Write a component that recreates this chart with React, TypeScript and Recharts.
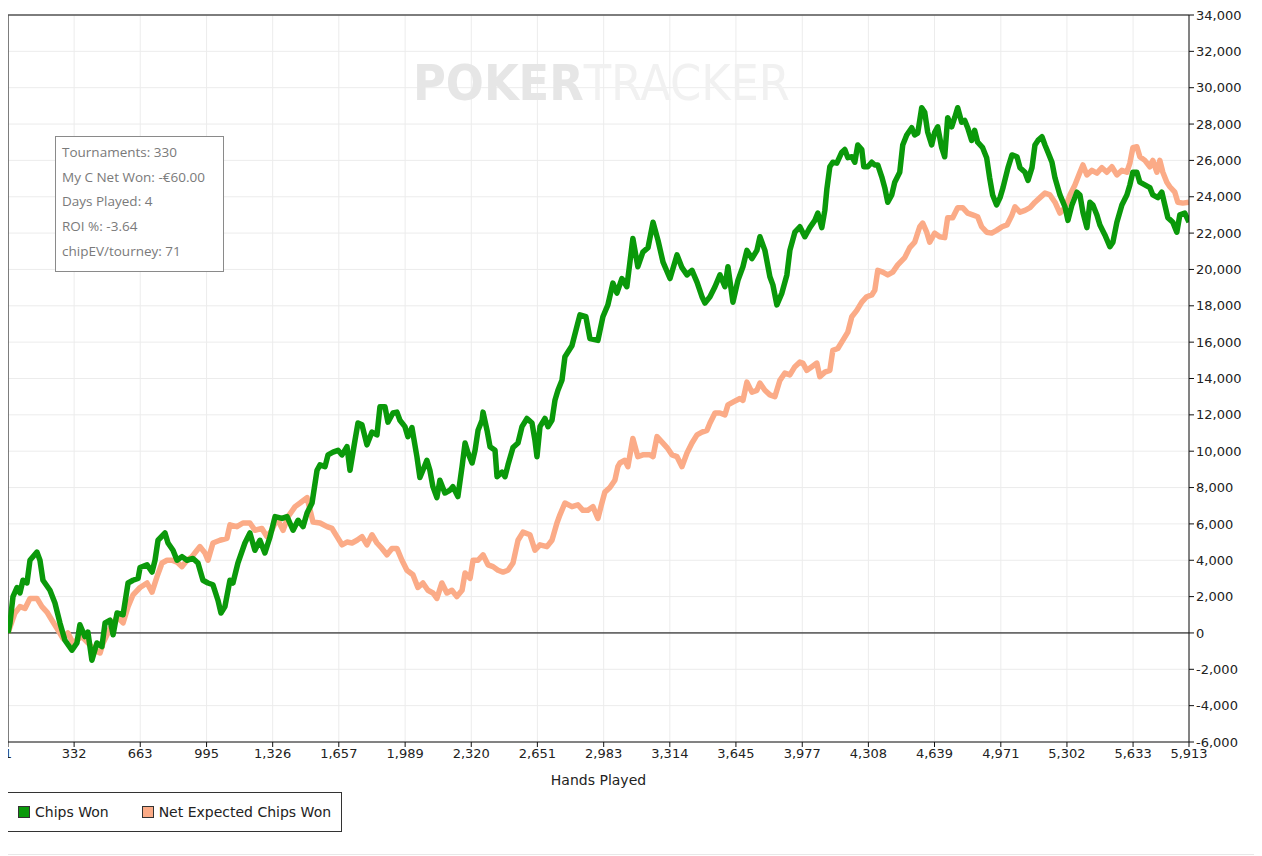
import React from "react";
import {
  LineChart,
  Line,
  XAxis,
  YAxis,
  CartesianGrid,
  ReferenceLine,
  Legend,
  Label,
  Customized,
} from "recharts";

// ---- data (hands played -> chips) ----
const chipsWonHands = [
  1, 11, 26, 46, 61, 76, 96, 111, 146, 161, 176, 211, 236, 261, 286, 321, 346, 361, 386, 401,
  421, 446, 471, 487, 512, 527, 547, 577, 602, 627, 652, 662, 697, 722, 737, 752, 787, 802, 827, 847,
  872, 897, 927, 952, 977, 1002, 1027, 1052, 1067, 1087, 1112, 1127, 1152, 1187, 1212, 1237, 1262, 1287, 1313, 1338,
  1373, 1398, 1428, 1453, 1478, 1498, 1523, 1548, 1563, 1588, 1603, 1628, 1653, 1673, 1698, 1713, 1738, 1753, 1773, 1798,
  1823, 1848, 1863, 1888, 1903, 1928, 1948, 1963, 1988, 2003, 2023, 2048, 2063, 2078, 2098, 2113, 2128, 2148, 2163, 2188,
  2213, 2228, 2253, 2274, 2289, 2304, 2324, 2339, 2354, 2374, 2379, 2399, 2414, 2439, 2449, 2474, 2489, 2504, 2529, 2554,
  2574, 2599, 2624, 2639, 2649, 2664, 2689, 2704, 2724, 2739, 2754, 2774, 2789, 2824, 2864, 2894, 2914, 2954, 2979, 3004,
  3029, 3049, 3074, 3099, 3129, 3154, 3179, 3205, 3230, 3255, 3280, 3315, 3350, 3375, 3400, 3425, 3450, 3475, 3490, 3515,
  3540, 3565, 3590, 3605, 3630, 3655, 3680, 3700, 3725, 3750, 3765, 3790, 3815, 3830, 3850, 3875, 3900, 3915, 3940, 3965,
  3990, 4015, 4040, 4055, 4075, 4090, 4100, 4115, 4130, 4150, 4175, 4190, 4205, 4225, 4240, 4255, 4275, 4285, 4305, 4325,
  4340, 4355, 4375, 4390, 4405, 4425, 4440, 4465, 4480, 4500, 4525, 4540, 4555, 4575, 4590, 4605, 4625, 4640, 4655, 4675,
  4690, 4705, 4725, 4740, 4755, 4775, 4790, 4805, 4825, 4840, 4855, 4880, 4900, 4915, 4930, 4950, 4967, 4982, 5007, 5027,
  5052, 5067, 5092, 5107, 5127, 5142, 5157, 5177, 5192, 5207, 5227, 5242, 5267, 5292, 5307, 5327, 5352, 5367, 5382, 5402,
  5417, 5432, 5452, 5467, 5492, 5517, 5532, 5552, 5577, 5602, 5617, 5632, 5652, 5667, 5692, 5717, 5732, 5757, 5777, 5792,
  5807, 5832, 5852, 5867, 5892, 5913,
];
const chipsWonValues = [
  0, 550, 2000, 2500, 2200, 2900, 2750, 4000, 4450, 4000, 2900, 2350, 1650, 550, -400, -950, -550, 450, -200, 50,
  -1500, -550, -750, 550, 700, -100, 1100, 1000, 2750, 2900, 3000, 3600, 3750, 3350, 4000, 5100, 5500, 4950, 4550, 4000,
  4200, 4000, 4100, 3850, 2900, 2750, 2650, 1800, 1100, 1450, 2900, 2750, 3850, 4950, 5500, 4550, 5100, 4400, 5300, 6400,
  6300, 6400, 5650, 6200, 5850, 6600, 7150, 8950, 9250, 9150, 9800, 9950, 10050, 9800, 10250, 8950, 10600, 11550, 11450, 10350,
  11050, 10900, 12450, 12450, 11600, 12100, 12150, 11700, 11350, 10800, 11300, 9700, 8550, 8950, 9500, 8950, 8050, 7450, 8400, 7700,
  7850, 8050, 7500, 9150, 10450, 9900, 9350, 10050, 11150, 11700, 12150, 11150, 10250, 10050, 8600, 8850, 8600, 9250, 10200, 10450,
  11350, 11800, 11550, 10600, 9700, 11350, 11800, 11350, 11700, 12800, 13350, 13900, 15200, 15800, 17500, 17400, 16200, 16100, 17400, 18050,
  19250, 18700, 19500, 19050, 21700, 20150, 20950, 21200, 22600, 21600, 20400, 19500, 20800, 20100, 19700, 19950, 19300, 18500, 18150, 18500,
  19050, 19700, 19050, 20150, 18200, 19400, 20150, 21050, 20600, 21050, 21800, 21050, 19600, 19150, 18050, 18700, 19700, 21050, 22050, 22350,
  21800, 22300, 22700, 23100, 22300, 23250, 24400, 25650, 25900, 25850, 26450, 26600, 26150, 26200, 25900, 26850, 26600, 25650, 25650, 25900,
  25750, 25750, 25100, 24500, 23700, 24100, 24800, 25350, 26850, 27400, 27800, 27400, 27500, 28900, 28650, 27550, 26850, 27550, 27850, 26700,
  26200, 28350, 27850, 28350, 28900, 28100, 28200, 27800, 27100, 27650, 27000, 26700, 26150, 25050, 24100, 23550, 23950, 24500, 25600, 26300,
  26200, 25600, 25350, 24900, 25600, 26850, 27100, 27300, 26850, 26450, 25900, 25050, 24100, 23450, 22700, 23550, 24250, 24100, 23150, 22300,
  23700, 23550, 23000, 22450, 21900, 21250, 21500, 22600, 23550, 24100, 24650, 25350, 25350, 24800, 24650, 24500, 24100, 23950, 24250, 23550,
  22850, 22600, 22050, 23000, 23100, 22600,
];

const netExpHands = [
  1, 36, 61, 86, 111, 146, 171, 196, 221, 246, 276, 301, 326, 371, 401, 436, 462, 477, 512, 547,
  577, 602, 627, 662, 697, 722, 747, 772, 797, 822, 847, 872, 897, 922, 947, 962, 987, 1002, 1027, 1062,
  1097, 1112, 1147, 1177, 1212, 1237, 1272, 1297, 1322, 1348, 1378, 1403, 1438, 1463, 1498, 1528, 1563, 1598, 1623, 1648,
  1673, 1698, 1723, 1748, 1773, 1798, 1823, 1848, 1873, 1898, 1923, 1948, 1973, 1998, 2028, 2053, 2078, 2103, 2128, 2148,
  2173, 2198, 2223, 2248, 2274, 2289, 2314, 2329, 2354, 2379, 2404, 2429, 2454, 2479, 2504, 2529, 2554, 2579, 2614, 2639,
  2664, 2699, 2724, 2749, 2764, 2789, 2824, 2854, 2879, 2904, 2929, 2954, 2974, 2989, 3014, 3039, 3054, 3064, 3089, 3104,
  3129, 3154, 3179, 3215, 3230, 3250, 3275, 3300, 3325, 3350, 3375, 3400, 3425, 3450, 3475, 3500, 3515, 3540, 3565, 3590,
  3605, 3630, 3665, 3680, 3700, 3725, 3750, 3765, 3790, 3815, 3840, 3865, 3890, 3915, 3940, 3965, 3980, 4000, 4025, 4050,
  4065, 4090, 4115, 4130, 4155, 4180, 4205, 4225, 4250, 4275, 4300, 4325, 4340, 4355, 4380, 4405, 4430, 4455, 4490, 4515,
  4540, 4565, 4580, 4600, 4615, 4640, 4665, 4690, 4705, 4730, 4755, 4780, 4805, 4830, 4855, 4875, 4900, 4925, 4950, 4977,
  5002, 5027, 5042, 5067, 5092, 5117, 5142, 5167, 5192, 5217, 5242, 5267, 5292, 5317, 5342, 5367, 5382, 5402, 5427, 5452,
  5477, 5502, 5527, 5552, 5577, 5602, 5617, 5632, 5652, 5667, 5692, 5717, 5732, 5752, 5767, 5782, 5802, 5817, 5842, 5857,
  5882, 5913,
];
const netExpValues = [
  0, 1100, 1450, 1350, 1900, 1900, 1450, 1150, 700, 250, -300, 0, -550, -200, -550, -950, -1100, -550, 250, 900,
  550, 1450, 2100, 2500, 2750, 2250, 3100, 3850, 4000, 4000, 3900, 3650, 4000, 4200, 4550, 4750, 4400, 4000, 4950, 5100,
  5200, 5950, 5850, 6050, 6050, 5650, 5750, 5300, 5650, 6300, 5650, 6400, 6950, 7150, 7450, 6100, 6050, 5850, 5750, 5300,
  4850, 5000, 4950, 5100, 5300, 4850, 5400, 4950, 4650, 4300, 4650, 4650, 4000, 3450, 3200, 2500, 2750, 2350, 2200, 1900,
  2750, 2200, 2350, 2000, 2350, 3300, 3000, 4000, 4000, 4300, 3750, 3650, 3450, 3350, 3450, 3850, 5100, 5550, 5400, 4550,
  4850, 4750, 5100, 6050, 6500, 7150, 6950, 7050, 6750, 6750, 6950, 6300, 7150, 7750, 8000, 8400, 9150, 9350, 9500, 9150,
  10700, 9700, 9800, 9800, 9700, 10800, 10500, 10200, 9800, 9700, 9150, 9900, 10450, 10900, 11050, 11150, 11550, 12100, 12100, 12000,
  12550, 12700, 12900, 12800, 13800, 13250, 13350, 13750, 13350, 13100, 13000, 13900, 14300, 14200, 14650, 14900, 14850, 14450, 14650, 14850,
  14100, 14350, 14450, 15550, 15650, 16100, 16550, 17400, 17750, 18200, 18500, 18600, 18850, 19950, 19850, 19700, 19850, 20250, 20650, 21200,
  21500, 22350, 22550, 22050, 21500, 22000, 21800, 21750, 22850, 22850, 23400, 23400, 23100, 23000, 22900, 22350, 22050, 22000, 22150, 22350,
  22450, 23000, 23450, 23150, 23250, 23400, 23700, 23950, 24200, 24100, 23700, 23100, 23400, 24100, 24650, 25350, 25750, 25200, 25450, 25300,
  25600, 25350, 25650, 25200, 25450, 25350, 25850, 26700, 26750, 26200, 26000, 25650, 26000, 25350, 26000, 25350, 24800, 24550, 24250, 23700,
  23650, 23700,
];

const xTicks = [1, 332, 663, 995, 1326, 1657, 1989, 2320, 2651, 2983, 3314, 3645, 3977, 4308, 4639, 4971, 5302, 5633, 5913];
const yTicks = [-6000, -4000, -2000, 0, 2000, 4000, 6000, 8000, 10000, 12000, 14000, 16000, 18000, 20000, 22000, 24000, 26000, 28000, 30000, 32000, 34000];

const infoLines = [
  "Tournaments: 330",
  "My C Net Won: -€60.00",
  "Days Played: 4",
  "ROI %: -3.64",
  "chipEV/tourney: 71",
];

const seriesNames = ["Chips Won", "Net Expected Chips Won"];
const seriesColors = ["#0a990a", "#fbab87"];

const chipsWonData = chipsWonHands.map((h, i) => ({ hand: h, value: chipsWonValues[i] }));
const netExpData = netExpHands.map((h, i) => ({ hand: h, value: netExpValues[i] }));

const fmt = (v: number) => v.toLocaleString("en-US");
const FONT = "'DejaVu Sans', Verdana, sans-serif";

const Decorations = () => (
  <g>
    <text
      x={405}
      y={92}
      fontFamily="'DejaVu Sans Condensed', 'DejaVu Sans', sans-serif"
      fontWeight="bold"
      fontSize={50}
      textLength={377}
      lengthAdjust="spacingAndGlyphs"
    >
      <tspan fill="#e6e6e6">POKER</tspan>
      <tspan fill="#f1f1f1" fontWeight="normal">TRACKER</tspan>
    </text>
    <rect x={47.5} y={128.5} width={168} height={135} fill="#ffffff" stroke="#8a8a8a" strokeWidth={1} />
    {infoLines.map((t, i) => (
      <text key={t} x={54} y={149 + i * 24.7} fontFamily="'Open Sans', sans-serif" fontSize={13.5} fill="#7a7a7a">
        {t}
      </text>
    ))}
    <text x={1249} y={374} fontFamily={FONT} fontSize={10} fill="#333">‡</text>
  </g>
);

const LegendBox = () => (
  <div
    style={{
      boxSizing: "border-box",
      width: 335,
      height: 40,
      border: "1px solid #333",
      background: "#fff",
      display: "flex",
      alignItems: "center",
      fontFamily: FONT,
      fontSize: 14,
      color: "#222",
      paddingLeft: 10,
    }}
  >
    {seriesNames.map((n, i) => (
      <div key={n} style={{ display: "flex", alignItems: "center", marginRight: i === 0 ? 33 : 0 }}>
        <span
          style={{
            display: "inline-block",
            boxSizing: "border-box",
            width: 12,
            height: 12,
            background: seriesColors[i],
            border: "1px solid #333",
            marginRight: 5,
          }}
        />
        <span>{n}</span>
      </div>
    ))}
  </div>
);

export default function App() {
  return (
    <div style={{ width: 1254, background: "#fff" }}>
      <style>{`.recharts-surface{overflow:visible}`}</style>
      <LineChart width={1254} height={840} margin={{ top: 7, right: 0, bottom: 16, left: 0 }}>
        <CartesianGrid stroke="#ececec" vertical horizontal />
        <XAxis
          type="number"
          dataKey="hand"
          domain={[1, 5913]}
          ticks={xTicks}
          interval={0}
          tickFormatter={fmt}
          height={50}
          tickSize={5}
          stroke="#111"
          tick={{ fill: "#222", fontSize: 13, fontFamily: FONT }}
          allowDataOverflow
        >
          <Label value="Hands Played" position="insideBottom" offset={7} fill="#222" fontSize={14} fontFamily={FONT} />
        </XAxis>
        <YAxis
          orientation="right"
          type="number"
          domain={[-6000, 34000]}
          ticks={yTicks}
          interval={0}
          tickFormatter={fmt}
          width={73}
          tickSize={5}
          stroke="#111"
          tick={{ fill: "#222", fontSize: 13, fontFamily: FONT }}
          allowDataOverflow
        />
        <ReferenceLine y={34000} stroke="#555" strokeWidth={1.5} />
        <ReferenceLine x={1} stroke="#555" strokeWidth={1.5} />
        <Customized component={Decorations} />
        <ReferenceLine y={0} stroke="#000" strokeWidth={1} />
        <Line
          data={netExpData}
          dataKey="value"
          name={seriesNames[1]}
          stroke={seriesColors[1]}
          strokeWidth={5.5}
          dot={false}
          activeDot={false}
          type="linear"
          strokeLinejoin="round"
          isAnimationActive={false}
        />
        <Line
          data={chipsWonData}
          dataKey="value"
          name={seriesNames[0]}
          stroke={seriesColors[0]}
          strokeWidth={5.5}
          dot={false}
          activeDot={false}
          type="linear"
          strokeLinejoin="round"
          isAnimationActive={false}
        />
        <Legend
          verticalAlign="bottom"
          align="left"
          content={() => <LegendBox />}
          wrapperStyle={{ left: -1, bottom: 16, width: 335, height: 40 }}
        />
      </LineChart>
      <div style={{ height: 6 }} />
      <div style={{ borderTop: "1px solid #e8e8e8", width: 1262, marginLeft: -8 }} />
    </div>
  );
}
